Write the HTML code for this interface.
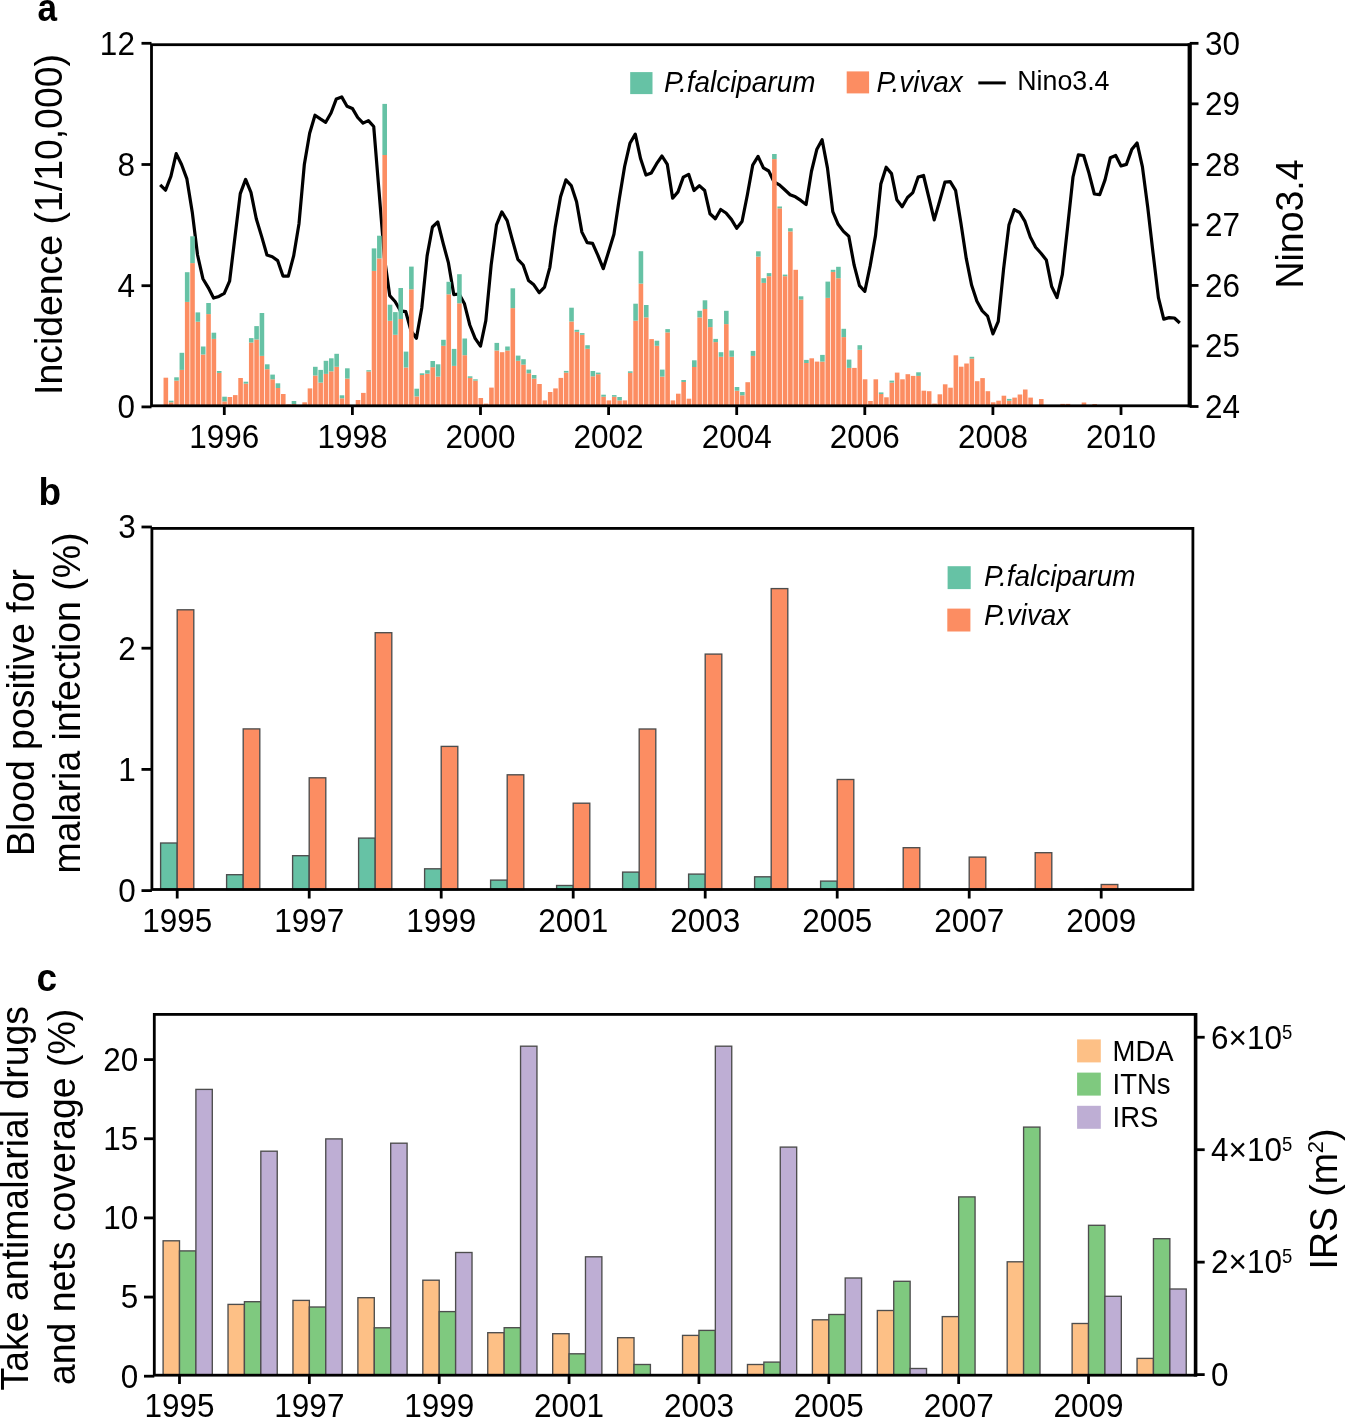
<!DOCTYPE html><html><head><meta charset="utf-8"><style>html,body{margin:0;padding:0;background:#fff;}svg{-webkit-font-smoothing:antialiased;will-change:transform;}body{width:1346px;height:1419px;overflow:hidden;}</style></head><body><svg width="1346" height="1419" viewBox="0 0 1346 1419" style="display:block">
<rect width="1346" height="1419" fill="#fff"/>
<g font-family='"Liberation Sans", sans-serif' fill="#000">
<polyline points="160.2,184.8 165.54,190.2 170.88,176.4 176.21,153.6 181.55,164.5 186.89,178.9 192.23,211.9 197.57,255 202.9,278.7 208.24,287.6 213.58,298.1 218.92,296.4 224.26,293.4 229.59,281.2 234.93,237.3 240.27,193.6 245.61,179.4 250.95,192.4 256.28,218.7 261.62,236.4 266.96,255 272.3,256.7 277.64,260.6 282.97,276.1 288.31,276.1 293.65,255.9 298.99,223.7 304.33,164.5 309.66,133.3 315,115.2 320.34,118.9 325.68,122.3 331.02,113 336.35,98.9 341.69,96.9 347.03,106.2 352.37,108.4 357.71,117.5 363.04,123.1 368.38,120.6 373.72,126.5 379.06,191.6 384.4,257.5 389.73,295.6 395.07,301.5 400.41,310.8 405.75,311.7 411.09,331 416.42,338.3 421.76,308 427.1,255.9 432.44,227 437.78,222 443.11,243.2 448.45,262.9 453.79,294.6 459.13,294 464.47,303.8 469.8,325 475.14,338.3 480.48,346.1 485.82,320.7 491.16,265 496.49,224.9 501.83,211.9 507.17,220.6 512.51,240.4 517.85,259.4 523.18,265 528.52,280.5 533.86,284.8 539.2,292.7 544.54,287.1 549.87,267.3 555.21,227.1 560.55,196.8 565.89,179.9 571.23,185.6 576.56,201.8 581.9,232.1 587.24,242.7 592.58,243.4 597.92,255.3 603.25,268.7 608.59,251.8 613.93,234.2 619.27,199 624.61,166.5 629.94,143.3 635.28,134.1 640.62,158.8 645.96,175 651.3,172.9 656.63,163.7 661.97,156 667.31,164.4 672.65,198.2 677.99,191.9 683.32,177.1 688.66,174.3 694,190.5 699.34,185.6 704.68,190.5 710.01,213.8 715.35,218.7 720.69,209.5 726.03,213 731.37,219.4 736.7,228.3 742.04,221.5 747.38,194.7 752.72,165.1 758.06,156.4 763.39,167.9 768.73,171 774.07,182 779.41,184.9 784.75,189.8 790.08,194.7 795.42,196.8 800.76,200.4 806.1,204.6 811.44,171.5 816.77,149.6 822.11,139.7 827.45,167.9 832.79,211.6 838.13,224.3 843.46,231.4 848.8,236.3 854.14,265.2 859.48,285.7 864.82,291.3 870.15,265.9 875.49,235.6 880.83,184.1 886.17,167.2 891.51,173.6 896.84,199.7 902.18,206.7 907.52,197.5 912.86,192.6 918.2,177.1 923.53,175.5 928.87,197.5 934.21,219.9 939.55,201.4 944.89,182.2 950.22,181.7 955.56,190.3 960.9,222.9 966.24,258.4 971.58,285 976.91,301.3 982.25,310.9 987.59,316.1 992.93,333.9 998.27,321.3 1003.6,268.8 1008.94,225.1 1014.28,209.6 1019.62,212.5 1024.96,221.4 1030.29,236.9 1035.63,247.3 1040.97,253.2 1046.31,259.9 1051.65,286.5 1056.98,297.6 1062.32,274.7 1067.66,226.6 1073,177 1078.34,154.8 1083.67,155.5 1089.01,173.3 1094.35,194 1099.69,194.7 1105.03,179.9 1110.36,157.7 1115.7,155.5 1121.04,165.9 1126.38,164.4 1131.72,149.6 1137.05,142.9 1142.39,166.6 1147.73,207.3 1153.07,253.2 1158.41,297.6 1163.74,319.1 1169.08,317.6 1174.42,318 1179.76,323" fill="none" stroke="#000" stroke-width="3.2" stroke-linejoin="round" stroke-linecap="butt"/>
<g>
<rect x="163.54" y="377.7" width="4.59" height="28.1" fill="#fc8d62"/>
<rect x="168.88" y="402.3" width="4.59" height="3.5" fill="#fc8d62"/>
<rect x="168.88" y="400.7" width="4.59" height="1.6" fill="#66c2a5"/>
<rect x="174.22" y="380.6" width="4.59" height="25.2" fill="#fc8d62"/>
<rect x="174.22" y="377.3" width="4.59" height="3.3" fill="#66c2a5"/>
<rect x="179.56" y="369.9" width="4.59" height="35.9" fill="#fc8d62"/>
<rect x="179.56" y="352.8" width="4.59" height="17.1" fill="#66c2a5"/>
<rect x="184.9" y="301.9" width="4.59" height="103.9" fill="#fc8d62"/>
<rect x="184.9" y="272.2" width="4.59" height="29.7" fill="#66c2a5"/>
<rect x="190.23" y="263.1" width="4.59" height="142.7" fill="#fc8d62"/>
<rect x="190.23" y="236.3" width="4.59" height="26.8" fill="#66c2a5"/>
<rect x="195.57" y="321.7" width="4.59" height="84.1" fill="#fc8d62"/>
<rect x="195.57" y="312.4" width="4.59" height="9.3" fill="#66c2a5"/>
<rect x="200.91" y="354.5" width="4.59" height="51.3" fill="#fc8d62"/>
<rect x="200.91" y="346.5" width="4.59" height="8" fill="#66c2a5"/>
<rect x="206.25" y="314.1" width="4.59" height="91.7" fill="#fc8d62"/>
<rect x="206.25" y="303" width="4.59" height="11.1" fill="#66c2a5"/>
<rect x="211.59" y="338.9" width="4.59" height="66.9" fill="#fc8d62"/>
<rect x="211.59" y="332.7" width="4.59" height="6.2" fill="#66c2a5"/>
<rect x="216.92" y="372.9" width="4.59" height="32.9" fill="#fc8d62"/>
<rect x="216.92" y="371" width="4.59" height="1.9" fill="#66c2a5"/>
<rect x="222.26" y="401.4" width="4.59" height="4.4" fill="#fc8d62"/>
<rect x="222.26" y="396.7" width="4.59" height="4.7" fill="#66c2a5"/>
<rect x="227.6" y="397" width="4.59" height="8.8" fill="#fc8d62"/>
<rect x="232.94" y="395.1" width="4.59" height="10.7" fill="#fc8d62"/>
<rect x="238.28" y="378" width="4.59" height="27.8" fill="#fc8d62"/>
<rect x="243.61" y="383.6" width="4.59" height="22.2" fill="#fc8d62"/>
<rect x="243.61" y="381.7" width="4.59" height="1.9" fill="#66c2a5"/>
<rect x="248.95" y="342.5" width="4.59" height="63.3" fill="#fc8d62"/>
<rect x="248.95" y="338.1" width="4.59" height="4.4" fill="#66c2a5"/>
<rect x="254.29" y="339.5" width="4.59" height="66.3" fill="#fc8d62"/>
<rect x="254.29" y="326.1" width="4.59" height="13.4" fill="#66c2a5"/>
<rect x="259.63" y="355.9" width="4.59" height="49.9" fill="#fc8d62"/>
<rect x="259.63" y="313" width="4.59" height="42.9" fill="#66c2a5"/>
<rect x="264.97" y="369.2" width="4.59" height="36.6" fill="#fc8d62"/>
<rect x="264.97" y="364.3" width="4.59" height="4.9" fill="#66c2a5"/>
<rect x="270.3" y="379.3" width="4.59" height="26.5" fill="#fc8d62"/>
<rect x="270.3" y="374.6" width="4.59" height="4.7" fill="#66c2a5"/>
<rect x="275.64" y="388" width="4.59" height="17.8" fill="#fc8d62"/>
<rect x="275.64" y="383.3" width="4.59" height="4.7" fill="#66c2a5"/>
<rect x="280.98" y="394" width="4.59" height="11.8" fill="#fc8d62"/>
<rect x="286.32" y="404.4" width="4.59" height="1.4" fill="#fc8d62"/>
<rect x="291.66" y="404" width="4.59" height="1.8" fill="#fc8d62"/>
<rect x="291.66" y="401" width="4.59" height="3" fill="#66c2a5"/>
<rect x="302.33" y="402.3" width="4.59" height="3.5" fill="#fc8d62"/>
<rect x="307.67" y="388.4" width="4.59" height="17.4" fill="#fc8d62"/>
<rect x="313.01" y="375.5" width="4.59" height="30.3" fill="#fc8d62"/>
<rect x="313.01" y="366.8" width="4.59" height="8.7" fill="#66c2a5"/>
<rect x="318.35" y="382.6" width="4.59" height="23.2" fill="#fc8d62"/>
<rect x="318.35" y="369.9" width="4.59" height="12.7" fill="#66c2a5"/>
<rect x="323.68" y="373.9" width="4.59" height="31.9" fill="#fc8d62"/>
<rect x="323.68" y="360.8" width="4.59" height="13.1" fill="#66c2a5"/>
<rect x="329.02" y="371.3" width="4.59" height="34.5" fill="#fc8d62"/>
<rect x="329.02" y="358.3" width="4.59" height="13" fill="#66c2a5"/>
<rect x="334.36" y="366.8" width="4.59" height="39" fill="#fc8d62"/>
<rect x="334.36" y="353.8" width="4.59" height="13" fill="#66c2a5"/>
<rect x="339.7" y="398.3" width="4.59" height="7.5" fill="#fc8d62"/>
<rect x="339.7" y="395.3" width="4.59" height="3" fill="#66c2a5"/>
<rect x="345.04" y="378.6" width="4.59" height="27.2" fill="#fc8d62"/>
<rect x="345.04" y="368.3" width="4.59" height="10.3" fill="#66c2a5"/>
<rect x="355.71" y="400" width="4.59" height="5.8" fill="#fc8d62"/>
<rect x="361.05" y="392.9" width="4.59" height="12.9" fill="#fc8d62"/>
<rect x="366.39" y="371.5" width="4.59" height="34.3" fill="#fc8d62"/>
<rect x="366.39" y="370.2" width="4.59" height="1.3" fill="#66c2a5"/>
<rect x="371.73" y="270.9" width="4.59" height="134.9" fill="#fc8d62"/>
<rect x="371.73" y="248.4" width="4.59" height="22.5" fill="#66c2a5"/>
<rect x="377.06" y="258.4" width="4.59" height="147.4" fill="#fc8d62"/>
<rect x="377.06" y="235.7" width="4.59" height="22.7" fill="#66c2a5"/>
<rect x="382.4" y="155" width="4.59" height="250.8" fill="#fc8d62"/>
<rect x="382.4" y="103.9" width="4.59" height="51.1" fill="#66c2a5"/>
<rect x="387.74" y="320.8" width="4.59" height="85" fill="#fc8d62"/>
<rect x="387.74" y="304.7" width="4.59" height="16.1" fill="#66c2a5"/>
<rect x="393.08" y="334.8" width="4.59" height="71" fill="#fc8d62"/>
<rect x="393.08" y="312.1" width="4.59" height="22.7" fill="#66c2a5"/>
<rect x="398.42" y="319" width="4.59" height="86.8" fill="#fc8d62"/>
<rect x="398.42" y="288" width="4.59" height="31" fill="#66c2a5"/>
<rect x="403.75" y="367.5" width="4.59" height="38.3" fill="#fc8d62"/>
<rect x="403.75" y="351.6" width="4.59" height="15.9" fill="#66c2a5"/>
<rect x="409.09" y="289.3" width="4.59" height="116.5" fill="#fc8d62"/>
<rect x="409.09" y="266.6" width="4.59" height="22.7" fill="#66c2a5"/>
<rect x="414.43" y="396.4" width="4.59" height="9.4" fill="#fc8d62"/>
<rect x="414.43" y="388.7" width="4.59" height="7.7" fill="#66c2a5"/>
<rect x="419.77" y="375" width="4.59" height="30.8" fill="#fc8d62"/>
<rect x="419.77" y="373.3" width="4.59" height="1.7" fill="#66c2a5"/>
<rect x="425.11" y="373.7" width="4.59" height="32.1" fill="#fc8d62"/>
<rect x="425.11" y="370.2" width="4.59" height="3.5" fill="#66c2a5"/>
<rect x="430.44" y="367.2" width="4.59" height="38.6" fill="#fc8d62"/>
<rect x="430.44" y="361" width="4.59" height="6.2" fill="#66c2a5"/>
<rect x="435.78" y="376.6" width="4.59" height="29.2" fill="#fc8d62"/>
<rect x="435.78" y="364.3" width="4.59" height="12.3" fill="#66c2a5"/>
<rect x="441.12" y="345.8" width="4.59" height="60" fill="#fc8d62"/>
<rect x="441.12" y="339.8" width="4.59" height="6" fill="#66c2a5"/>
<rect x="446.46" y="294.3" width="4.59" height="111.5" fill="#fc8d62"/>
<rect x="446.46" y="281.8" width="4.59" height="12.5" fill="#66c2a5"/>
<rect x="451.8" y="365.9" width="4.59" height="39.9" fill="#fc8d62"/>
<rect x="451.8" y="348.9" width="4.59" height="17" fill="#66c2a5"/>
<rect x="457.13" y="303.3" width="4.59" height="102.5" fill="#fc8d62"/>
<rect x="457.13" y="274.2" width="4.59" height="29.1" fill="#66c2a5"/>
<rect x="462.47" y="355.2" width="4.59" height="50.6" fill="#fc8d62"/>
<rect x="462.47" y="338.5" width="4.59" height="16.7" fill="#66c2a5"/>
<rect x="467.81" y="377.9" width="4.59" height="27.9" fill="#fc8d62"/>
<rect x="467.81" y="376.3" width="4.59" height="1.6" fill="#66c2a5"/>
<rect x="473.15" y="380.6" width="4.59" height="25.2" fill="#fc8d62"/>
<rect x="473.15" y="379.3" width="4.59" height="1.3" fill="#66c2a5"/>
<rect x="478.49" y="398" width="4.59" height="7.8" fill="#fc8d62"/>
<rect x="483.82" y="403.6" width="4.59" height="2.2" fill="#fc8d62"/>
<rect x="489.16" y="387.6" width="4.59" height="18.2" fill="#fc8d62"/>
<rect x="494.5" y="350.5" width="4.59" height="55.3" fill="#fc8d62"/>
<rect x="494.5" y="342.9" width="4.59" height="7.6" fill="#66c2a5"/>
<rect x="499.84" y="352.2" width="4.59" height="53.6" fill="#fc8d62"/>
<rect x="505.18" y="350.5" width="4.59" height="55.3" fill="#fc8d62"/>
<rect x="505.18" y="346.5" width="4.59" height="4" fill="#66c2a5"/>
<rect x="510.51" y="308.1" width="4.59" height="97.7" fill="#fc8d62"/>
<rect x="510.51" y="288.3" width="4.59" height="19.8" fill="#66c2a5"/>
<rect x="515.85" y="360.8" width="4.59" height="45" fill="#fc8d62"/>
<rect x="515.85" y="355.6" width="4.59" height="5.2" fill="#66c2a5"/>
<rect x="521.19" y="364.6" width="4.59" height="41.2" fill="#fc8d62"/>
<rect x="521.19" y="359.2" width="4.59" height="5.4" fill="#66c2a5"/>
<rect x="526.53" y="373.3" width="4.59" height="32.5" fill="#fc8d62"/>
<rect x="526.53" y="369.6" width="4.59" height="3.7" fill="#66c2a5"/>
<rect x="531.87" y="378.6" width="4.59" height="27.2" fill="#fc8d62"/>
<rect x="531.87" y="375" width="4.59" height="3.6" fill="#66c2a5"/>
<rect x="537.2" y="384" width="4.59" height="21.8" fill="#fc8d62"/>
<rect x="542.54" y="400.4" width="4.59" height="5.4" fill="#fc8d62"/>
<rect x="547.88" y="392" width="4.59" height="13.8" fill="#fc8d62"/>
<rect x="553.22" y="388.4" width="4.59" height="17.4" fill="#fc8d62"/>
<rect x="558.56" y="377.9" width="4.59" height="27.9" fill="#fc8d62"/>
<rect x="563.89" y="372.6" width="4.59" height="33.2" fill="#fc8d62"/>
<rect x="563.89" y="370.9" width="4.59" height="1.7" fill="#66c2a5"/>
<rect x="569.23" y="321.5" width="4.59" height="84.3" fill="#fc8d62"/>
<rect x="569.23" y="307.7" width="4.59" height="13.8" fill="#66c2a5"/>
<rect x="574.57" y="331.8" width="4.59" height="74" fill="#fc8d62"/>
<rect x="574.57" y="329.8" width="4.59" height="2" fill="#66c2a5"/>
<rect x="579.91" y="334.8" width="4.59" height="71" fill="#fc8d62"/>
<rect x="579.91" y="333.1" width="4.59" height="1.7" fill="#66c2a5"/>
<rect x="585.25" y="348.8" width="4.59" height="57" fill="#fc8d62"/>
<rect x="585.25" y="345.2" width="4.59" height="3.6" fill="#66c2a5"/>
<rect x="590.58" y="376.3" width="4.59" height="29.5" fill="#fc8d62"/>
<rect x="590.58" y="371" width="4.59" height="5.3" fill="#66c2a5"/>
<rect x="595.92" y="374.2" width="4.59" height="31.6" fill="#fc8d62"/>
<rect x="595.92" y="372.6" width="4.59" height="1.6" fill="#66c2a5"/>
<rect x="601.26" y="396.7" width="4.59" height="9.1" fill="#fc8d62"/>
<rect x="601.26" y="394.7" width="4.59" height="2" fill="#66c2a5"/>
<rect x="606.6" y="400.4" width="4.59" height="5.4" fill="#fc8d62"/>
<rect x="611.94" y="396.7" width="4.59" height="9.1" fill="#fc8d62"/>
<rect x="611.94" y="395.1" width="4.59" height="1.6" fill="#66c2a5"/>
<rect x="617.27" y="400.4" width="4.59" height="5.4" fill="#fc8d62"/>
<rect x="617.27" y="397" width="4.59" height="3.4" fill="#66c2a5"/>
<rect x="622.61" y="400.4" width="4.59" height="5.4" fill="#fc8d62"/>
<rect x="627.95" y="372.9" width="4.59" height="32.9" fill="#fc8d62"/>
<rect x="627.95" y="371.3" width="4.59" height="1.6" fill="#66c2a5"/>
<rect x="633.29" y="320.7" width="4.59" height="85.1" fill="#fc8d62"/>
<rect x="633.29" y="303.7" width="4.59" height="17" fill="#66c2a5"/>
<rect x="638.63" y="283.6" width="4.59" height="122.2" fill="#fc8d62"/>
<rect x="638.63" y="251.2" width="4.59" height="32.4" fill="#66c2a5"/>
<rect x="643.96" y="317.4" width="4.59" height="88.4" fill="#fc8d62"/>
<rect x="643.96" y="305" width="4.59" height="12.4" fill="#66c2a5"/>
<rect x="649.3" y="339.1" width="4.59" height="66.7" fill="#fc8d62"/>
<rect x="654.64" y="345.8" width="4.59" height="60" fill="#fc8d62"/>
<rect x="654.64" y="340.7" width="4.59" height="5.1" fill="#66c2a5"/>
<rect x="659.98" y="376.6" width="4.59" height="29.2" fill="#fc8d62"/>
<rect x="659.98" y="369.6" width="4.59" height="7" fill="#66c2a5"/>
<rect x="665.32" y="332.4" width="4.59" height="73.4" fill="#fc8d62"/>
<rect x="665.32" y="329.1" width="4.59" height="3.3" fill="#66c2a5"/>
<rect x="670.65" y="400.4" width="4.59" height="5.4" fill="#fc8d62"/>
<rect x="675.99" y="393.7" width="4.59" height="12.1" fill="#fc8d62"/>
<rect x="681.33" y="382" width="4.59" height="23.8" fill="#fc8d62"/>
<rect x="681.33" y="380" width="4.59" height="2" fill="#66c2a5"/>
<rect x="686.67" y="398.7" width="4.59" height="7.1" fill="#fc8d62"/>
<rect x="692.01" y="367" width="4.59" height="38.8" fill="#fc8d62"/>
<rect x="692.01" y="360.3" width="4.59" height="6.7" fill="#66c2a5"/>
<rect x="697.34" y="317.4" width="4.59" height="88.4" fill="#fc8d62"/>
<rect x="697.34" y="310.8" width="4.59" height="6.6" fill="#66c2a5"/>
<rect x="702.68" y="309" width="4.59" height="96.8" fill="#fc8d62"/>
<rect x="702.68" y="300.3" width="4.59" height="8.7" fill="#66c2a5"/>
<rect x="708.02" y="327.1" width="4.59" height="78.7" fill="#fc8d62"/>
<rect x="708.02" y="319" width="4.59" height="8.1" fill="#66c2a5"/>
<rect x="713.36" y="342.1" width="4.59" height="63.7" fill="#fc8d62"/>
<rect x="713.36" y="338.9" width="4.59" height="3.2" fill="#66c2a5"/>
<rect x="718.7" y="356.8" width="4.59" height="49" fill="#fc8d62"/>
<rect x="718.7" y="352.2" width="4.59" height="4.6" fill="#66c2a5"/>
<rect x="724.03" y="324.1" width="4.59" height="81.7" fill="#fc8d62"/>
<rect x="724.03" y="310.8" width="4.59" height="13.3" fill="#66c2a5"/>
<rect x="729.37" y="356.8" width="4.59" height="49" fill="#fc8d62"/>
<rect x="729.37" y="350.5" width="4.59" height="6.3" fill="#66c2a5"/>
<rect x="734.71" y="390.7" width="4.59" height="15.1" fill="#fc8d62"/>
<rect x="734.71" y="387" width="4.59" height="3.7" fill="#66c2a5"/>
<rect x="740.05" y="395.3" width="4.59" height="10.5" fill="#fc8d62"/>
<rect x="740.05" y="392" width="4.59" height="3.3" fill="#66c2a5"/>
<rect x="745.39" y="382.2" width="4.59" height="23.6" fill="#fc8d62"/>
<rect x="750.72" y="355.9" width="4.59" height="49.9" fill="#fc8d62"/>
<rect x="750.72" y="350.9" width="4.59" height="5" fill="#66c2a5"/>
<rect x="756.06" y="256.6" width="4.59" height="149.2" fill="#fc8d62"/>
<rect x="756.06" y="251.3" width="4.59" height="5.3" fill="#66c2a5"/>
<rect x="761.4" y="282.9" width="4.59" height="122.9" fill="#fc8d62"/>
<rect x="761.4" y="278.2" width="4.59" height="4.7" fill="#66c2a5"/>
<rect x="766.74" y="276.2" width="4.59" height="129.6" fill="#fc8d62"/>
<rect x="766.74" y="273.1" width="4.59" height="3.1" fill="#66c2a5"/>
<rect x="772.08" y="159.1" width="4.59" height="246.7" fill="#fc8d62"/>
<rect x="772.08" y="154" width="4.59" height="5.1" fill="#66c2a5"/>
<rect x="777.41" y="208.3" width="4.59" height="197.5" fill="#fc8d62"/>
<rect x="777.41" y="206.5" width="4.59" height="1.8" fill="#66c2a5"/>
<rect x="782.75" y="276.2" width="4.59" height="129.6" fill="#fc8d62"/>
<rect x="782.75" y="274.6" width="4.59" height="1.6" fill="#66c2a5"/>
<rect x="788.09" y="231.4" width="4.59" height="174.4" fill="#fc8d62"/>
<rect x="788.09" y="228.2" width="4.59" height="3.2" fill="#66c2a5"/>
<rect x="793.43" y="269.8" width="4.59" height="136" fill="#fc8d62"/>
<rect x="798.77" y="299.6" width="4.59" height="106.2" fill="#fc8d62"/>
<rect x="798.77" y="296.3" width="4.59" height="3.3" fill="#66c2a5"/>
<rect x="804.1" y="363" width="4.59" height="42.8" fill="#fc8d62"/>
<rect x="804.1" y="359.9" width="4.59" height="3.1" fill="#66c2a5"/>
<rect x="809.44" y="358.3" width="4.59" height="47.5" fill="#fc8d62"/>
<rect x="814.78" y="361.6" width="4.59" height="44.2" fill="#fc8d62"/>
<rect x="820.12" y="361.6" width="4.59" height="44.2" fill="#fc8d62"/>
<rect x="820.12" y="354.9" width="4.59" height="6.7" fill="#66c2a5"/>
<rect x="825.46" y="297.9" width="4.59" height="107.9" fill="#fc8d62"/>
<rect x="825.46" y="281.6" width="4.59" height="16.3" fill="#66c2a5"/>
<rect x="830.79" y="271.9" width="4.59" height="133.9" fill="#fc8d62"/>
<rect x="830.79" y="269.8" width="4.59" height="2.1" fill="#66c2a5"/>
<rect x="836.13" y="278.2" width="4.59" height="127.6" fill="#fc8d62"/>
<rect x="836.13" y="266.8" width="4.59" height="11.4" fill="#66c2a5"/>
<rect x="841.47" y="337.1" width="4.59" height="68.7" fill="#fc8d62"/>
<rect x="841.47" y="328.8" width="4.59" height="8.3" fill="#66c2a5"/>
<rect x="846.81" y="367.9" width="4.59" height="37.9" fill="#fc8d62"/>
<rect x="846.81" y="359.6" width="4.59" height="8.3" fill="#66c2a5"/>
<rect x="852.15" y="367.9" width="4.59" height="37.9" fill="#fc8d62"/>
<rect x="857.48" y="349.8" width="4.59" height="56" fill="#fc8d62"/>
<rect x="857.48" y="345.2" width="4.59" height="4.6" fill="#66c2a5"/>
<rect x="862.82" y="379.3" width="4.59" height="26.5" fill="#fc8d62"/>
<rect x="868.16" y="401" width="4.59" height="4.8" fill="#fc8d62"/>
<rect x="873.5" y="379.3" width="4.59" height="26.5" fill="#fc8d62"/>
<rect x="878.84" y="394" width="4.59" height="11.8" fill="#fc8d62"/>
<rect x="878.84" y="392.4" width="4.59" height="1.6" fill="#66c2a5"/>
<rect x="884.17" y="397.3" width="4.59" height="8.5" fill="#fc8d62"/>
<rect x="889.51" y="382.6" width="4.59" height="23.2" fill="#fc8d62"/>
<rect x="889.51" y="380.6" width="4.59" height="2" fill="#66c2a5"/>
<rect x="894.85" y="372.6" width="4.59" height="33.2" fill="#fc8d62"/>
<rect x="900.19" y="379.3" width="4.59" height="26.5" fill="#fc8d62"/>
<rect x="905.53" y="374.2" width="4.59" height="31.6" fill="#fc8d62"/>
<rect x="910.86" y="375.9" width="4.59" height="29.9" fill="#fc8d62"/>
<rect x="916.2" y="375.9" width="4.59" height="29.9" fill="#fc8d62"/>
<rect x="916.2" y="372.3" width="4.59" height="3.6" fill="#66c2a5"/>
<rect x="921.54" y="390.7" width="4.59" height="15.1" fill="#fc8d62"/>
<rect x="926.88" y="391.2" width="4.59" height="14.6" fill="#fc8d62"/>
<rect x="932.22" y="403.6" width="4.59" height="2.2" fill="#fc8d62"/>
<rect x="937.55" y="394.3" width="4.59" height="11.5" fill="#fc8d62"/>
<rect x="942.89" y="384.3" width="4.59" height="21.5" fill="#fc8d62"/>
<rect x="948.23" y="387.7" width="4.59" height="18.1" fill="#fc8d62"/>
<rect x="953.57" y="355.3" width="4.59" height="50.5" fill="#fc8d62"/>
<rect x="958.91" y="366.7" width="4.59" height="39.1" fill="#fc8d62"/>
<rect x="964.24" y="363.5" width="4.59" height="42.3" fill="#fc8d62"/>
<rect x="969.58" y="358.6" width="4.59" height="47.2" fill="#fc8d62"/>
<rect x="969.58" y="356.8" width="4.59" height="1.8" fill="#66c2a5"/>
<rect x="974.92" y="381.2" width="4.59" height="24.6" fill="#fc8d62"/>
<rect x="980.26" y="378.1" width="4.59" height="27.7" fill="#fc8d62"/>
<rect x="985.6" y="391.2" width="4.59" height="14.6" fill="#fc8d62"/>
<rect x="990.93" y="402.3" width="4.59" height="3.5" fill="#fc8d62"/>
<rect x="996.27" y="400.7" width="4.59" height="5.1" fill="#fc8d62"/>
<rect x="1001.61" y="395.7" width="4.59" height="10.1" fill="#fc8d62"/>
<rect x="1006.95" y="400.7" width="4.59" height="5.1" fill="#fc8d62"/>
<rect x="1006.95" y="398.9" width="4.59" height="1.8" fill="#66c2a5"/>
<rect x="1012.29" y="397.6" width="4.59" height="8.2" fill="#fc8d62"/>
<rect x="1017.62" y="394.5" width="4.59" height="11.3" fill="#fc8d62"/>
<rect x="1022.96" y="389.5" width="4.59" height="16.3" fill="#fc8d62"/>
<rect x="1028.3" y="397.6" width="4.59" height="8.2" fill="#fc8d62"/>
<rect x="1038.98" y="399" width="4.59" height="6.8" fill="#fc8d62"/>
<rect x="1060.33" y="403.9" width="4.59" height="1.9" fill="#fc8d62"/>
<rect x="1065.67" y="403.9" width="4.59" height="1.9" fill="#fc8d62"/>
<rect x="1081.68" y="402.5" width="4.59" height="3.3" fill="#fc8d62"/>
<rect x="1092.36" y="404" width="4.59" height="1.8" fill="#fc8d62"/>
</g>
<rect x="151.5" y="44.7" width="1038.2" height="361.1" fill="none" stroke="#000" stroke-width="2.8"/>
<line x1="1189.7" y1="43.300000000000004" x2="1189.7" y2="407.2" stroke="#000" stroke-width="4.2"/>
<line x1="141.5" y1="406.9" x2="151.5" y2="406.9" stroke="#000" stroke-width="2.8"/>
<text transform="translate(134.9 418.2) scale(1 1.045)" font-size="31.5" text-anchor="end" >0</text>
<line x1="141.5" y1="285.7" x2="151.5" y2="285.7" stroke="#000" stroke-width="2.8"/>
<text transform="translate(134.9 297) scale(1 1.045)" font-size="31.5" text-anchor="end" >4</text>
<line x1="141.5" y1="164.5" x2="151.5" y2="164.5" stroke="#000" stroke-width="2.8"/>
<text transform="translate(134.9 175.8) scale(1 1.045)" font-size="31.5" text-anchor="end" >8</text>
<line x1="141.5" y1="43.3" x2="151.5" y2="43.3" stroke="#000" stroke-width="2.8"/>
<text transform="translate(134.9 54.6) scale(1 1.045)" font-size="31.5" text-anchor="end" >12</text>
<line x1="1189.7" y1="406.5" x2="1198.5" y2="406.5" stroke="#000" stroke-width="2.8"/>
<text transform="translate(1205 417.8) scale(1 1.045)" font-size="31.5" text-anchor="start" >24</text>
<line x1="1189.7" y1="345.97" x2="1198.5" y2="345.97" stroke="#000" stroke-width="2.8"/>
<text transform="translate(1205 357.27) scale(1 1.045)" font-size="31.5" text-anchor="start" >25</text>
<line x1="1189.7" y1="285.44" x2="1198.5" y2="285.44" stroke="#000" stroke-width="2.8"/>
<text transform="translate(1205 296.74) scale(1 1.045)" font-size="31.5" text-anchor="start" >26</text>
<line x1="1189.7" y1="224.91" x2="1198.5" y2="224.91" stroke="#000" stroke-width="2.8"/>
<text transform="translate(1205 236.21) scale(1 1.045)" font-size="31.5" text-anchor="start" >27</text>
<line x1="1189.7" y1="164.38" x2="1198.5" y2="164.38" stroke="#000" stroke-width="2.8"/>
<text transform="translate(1205 175.68) scale(1 1.045)" font-size="31.5" text-anchor="start" >28</text>
<line x1="1189.7" y1="103.85" x2="1198.5" y2="103.85" stroke="#000" stroke-width="2.8"/>
<text transform="translate(1205 115.15) scale(1 1.045)" font-size="31.5" text-anchor="start" >29</text>
<line x1="1189.7" y1="43.32" x2="1198.5" y2="43.32" stroke="#000" stroke-width="2.8"/>
<text transform="translate(1205 54.62) scale(1 1.045)" font-size="31.5" text-anchor="start" >30</text>
<line x1="224.3" y1="405.8" x2="224.3" y2="415" stroke="#000" stroke-width="2.8"/>
<text transform="translate(224.3 448) scale(1 1.045)" font-size="31.5" text-anchor="middle" >1996</text>
<line x1="352.4" y1="405.8" x2="352.4" y2="415" stroke="#000" stroke-width="2.8"/>
<text transform="translate(352.4 448) scale(1 1.045)" font-size="31.5" text-anchor="middle" >1998</text>
<line x1="480.5" y1="405.8" x2="480.5" y2="415" stroke="#000" stroke-width="2.8"/>
<text transform="translate(480.5 448) scale(1 1.045)" font-size="31.5" text-anchor="middle" >2000</text>
<line x1="608.6" y1="405.8" x2="608.6" y2="415" stroke="#000" stroke-width="2.8"/>
<text transform="translate(608.6 448) scale(1 1.045)" font-size="31.5" text-anchor="middle" >2002</text>
<line x1="736.7" y1="405.8" x2="736.7" y2="415" stroke="#000" stroke-width="2.8"/>
<text transform="translate(736.7 448) scale(1 1.045)" font-size="31.5" text-anchor="middle" >2004</text>
<line x1="864.8" y1="405.8" x2="864.8" y2="415" stroke="#000" stroke-width="2.8"/>
<text transform="translate(864.8 448) scale(1 1.045)" font-size="31.5" text-anchor="middle" >2006</text>
<line x1="992.9" y1="405.8" x2="992.9" y2="415" stroke="#000" stroke-width="2.8"/>
<text transform="translate(992.9 448) scale(1 1.045)" font-size="31.5" text-anchor="middle" >2008</text>
<line x1="1121" y1="405.8" x2="1121" y2="415" stroke="#000" stroke-width="2.8"/>
<text transform="translate(1121 448) scale(1 1.045)" font-size="31.5" text-anchor="middle" >2010</text>
<rect x="630.2" y="72.1" width="22.3" height="22" fill="#66c2a5"/>
<text transform="translate(664 91.6) scale(1 1.045)" font-size="27.9" text-anchor="start" font-style="italic">P.falciparum</text>
<rect x="846.7" y="71.4" width="22.4" height="22" fill="#fc8d62"/>
<text transform="translate(876.5 91.6) scale(1 1.045)" font-size="27.9" text-anchor="start" font-style="italic">P.vivax</text>
<line x1="978.3" y1="82.9" x2="1005.8" y2="82.9" stroke="#000" stroke-width="3"/>
<text transform="translate(1017.2 90.1) scale(1 1.045)" font-size="26.8" text-anchor="start" >Nino3.4</text>
<text transform="translate(61.6 224.5) rotate(-90) scale(1 1.03)" font-size="37.4" text-anchor="middle" >Incidence (1/10,000)</text>
<text transform="translate(1302.8 224) rotate(-90) scale(1 1.03)" font-size="37.4" text-anchor="middle" >Nino3.4</text>
<text transform="translate(37.6 21.4) scale(0.95 1.045)" font-size="37" font-weight="bold">a</text>
<g stroke="#4d4d4d" stroke-width="1.35">
<rect x="160.6" y="843" width="16.6" height="46.5" fill="#66c2a5"/>
<rect x="177.2" y="609.8" width="16.6" height="279.7" fill="#fc8d62"/>
<rect x="226.6" y="874.7" width="16.6" height="14.8" fill="#66c2a5"/>
<rect x="243.2" y="728.9" width="16.6" height="160.6" fill="#fc8d62"/>
<rect x="292.6" y="855.7" width="16.6" height="33.8" fill="#66c2a5"/>
<rect x="309.2" y="777.8" width="16.6" height="111.7" fill="#fc8d62"/>
<rect x="358.6" y="838.1" width="16.6" height="51.4" fill="#66c2a5"/>
<rect x="375.2" y="632.7" width="16.6" height="256.8" fill="#fc8d62"/>
<rect x="424.6" y="868.8" width="16.6" height="20.7" fill="#66c2a5"/>
<rect x="441.2" y="746.4" width="16.6" height="143.1" fill="#fc8d62"/>
<rect x="490.6" y="880.1" width="16.6" height="9.4" fill="#66c2a5"/>
<rect x="507.2" y="774.8" width="16.6" height="114.7" fill="#fc8d62"/>
<rect x="556.6" y="885.5" width="16.6" height="4" fill="#66c2a5"/>
<rect x="573.2" y="803.2" width="16.6" height="86.3" fill="#fc8d62"/>
<rect x="622.6" y="872.1" width="16.6" height="17.4" fill="#66c2a5"/>
<rect x="639.2" y="729" width="16.6" height="160.5" fill="#fc8d62"/>
<rect x="688.6" y="874.1" width="16.6" height="15.4" fill="#66c2a5"/>
<rect x="705.2" y="654.1" width="16.6" height="235.4" fill="#fc8d62"/>
<rect x="754.6" y="876.8" width="16.6" height="12.7" fill="#66c2a5"/>
<rect x="771.2" y="588.6" width="16.6" height="300.9" fill="#fc8d62"/>
<rect x="820.6" y="881.1" width="16.6" height="8.4" fill="#66c2a5"/>
<rect x="837.2" y="779.5" width="16.6" height="110" fill="#fc8d62"/>
<rect x="886.6" y="889.5" width="16.6" height="0.01" fill="#66c2a5"/>
<rect x="903.2" y="847.7" width="16.6" height="41.8" fill="#fc8d62"/>
<rect x="952.6" y="889.5" width="16.6" height="0.01" fill="#66c2a5"/>
<rect x="969.2" y="857.1" width="16.6" height="32.4" fill="#fc8d62"/>
<rect x="1018.6" y="889.5" width="16.6" height="0.01" fill="#66c2a5"/>
<rect x="1035.2" y="852.7" width="16.6" height="36.8" fill="#fc8d62"/>
<rect x="1084.6" y="889.5" width="16.6" height="0.01" fill="#66c2a5"/>
<rect x="1101.2" y="884.5" width="16.6" height="5" fill="#fc8d62"/>
<rect x="1150.6" y="889.5" width="16.6" height="0.01" fill="#66c2a5"/>
<rect x="1167.2" y="889.5" width="16.6" height="0.01" fill="#fc8d62"/>
</g>
<rect x="151.9" y="528.4" width="1041" height="361.1" fill="none" stroke="#000" stroke-width="2.8"/>
<line x1="141.5" y1="890.6" x2="151.9" y2="890.6" stroke="#000" stroke-width="2.8"/>
<text transform="translate(135.8 901.9) scale(1 1.045)" font-size="31.5" text-anchor="end" >0</text>
<line x1="141.5" y1="769.4" x2="151.9" y2="769.4" stroke="#000" stroke-width="2.8"/>
<text transform="translate(135.8 780.7) scale(1 1.045)" font-size="31.5" text-anchor="end" >1</text>
<line x1="141.5" y1="648.2" x2="151.9" y2="648.2" stroke="#000" stroke-width="2.8"/>
<text transform="translate(135.8 659.5) scale(1 1.045)" font-size="31.5" text-anchor="end" >2</text>
<line x1="141.5" y1="527" x2="151.9" y2="527" stroke="#000" stroke-width="2.8"/>
<text transform="translate(135.8 538.3) scale(1 1.045)" font-size="31.5" text-anchor="end" >3</text>
<line x1="177.2" y1="889.5" x2="177.2" y2="898.5" stroke="#000" stroke-width="2.8"/>
<text transform="translate(177.2 931.5) scale(1 1.045)" font-size="31.5" text-anchor="middle" >1995</text>
<line x1="309.2" y1="889.5" x2="309.2" y2="898.5" stroke="#000" stroke-width="2.8"/>
<text transform="translate(309.2 931.5) scale(1 1.045)" font-size="31.5" text-anchor="middle" >1997</text>
<line x1="441.2" y1="889.5" x2="441.2" y2="898.5" stroke="#000" stroke-width="2.8"/>
<text transform="translate(441.2 931.5) scale(1 1.045)" font-size="31.5" text-anchor="middle" >1999</text>
<line x1="573.2" y1="889.5" x2="573.2" y2="898.5" stroke="#000" stroke-width="2.8"/>
<text transform="translate(573.2 931.5) scale(1 1.045)" font-size="31.5" text-anchor="middle" >2001</text>
<line x1="705.2" y1="889.5" x2="705.2" y2="898.5" stroke="#000" stroke-width="2.8"/>
<text transform="translate(705.2 931.5) scale(1 1.045)" font-size="31.5" text-anchor="middle" >2003</text>
<line x1="837.2" y1="889.5" x2="837.2" y2="898.5" stroke="#000" stroke-width="2.8"/>
<text transform="translate(837.2 931.5) scale(1 1.045)" font-size="31.5" text-anchor="middle" >2005</text>
<line x1="969.2" y1="889.5" x2="969.2" y2="898.5" stroke="#000" stroke-width="2.8"/>
<text transform="translate(969.2 931.5) scale(1 1.045)" font-size="31.5" text-anchor="middle" >2007</text>
<line x1="1101.2" y1="889.5" x2="1101.2" y2="898.5" stroke="#000" stroke-width="2.8"/>
<text transform="translate(1101.2 931.5) scale(1 1.045)" font-size="31.5" text-anchor="middle" >2009</text>
<rect x="947.6" y="566.2" width="23.1" height="22.9" fill="#66c2a5"/>
<text transform="translate(984 586.4) scale(1 1.045)" font-size="27.9" text-anchor="start" font-style="italic">P.falciparum</text>
<rect x="947.3" y="608.6" width="23.1" height="22.9" fill="#fc8d62"/>
<text transform="translate(984 624.6) scale(1 1.045)" font-size="27.9" text-anchor="start" font-style="italic">P.vivax</text>
<text transform="translate(33.6 712.5) rotate(-90) scale(1 1.03)" font-size="37.4" text-anchor="middle" >Blood positive for</text>
<text transform="translate(80.1 703) rotate(-90) scale(1 1.03)" font-size="37.4" text-anchor="middle" >malaria infection (%)</text>
<text transform="translate(38.5 505) scale(1 1.045)" font-size="37" text-anchor="start" font-weight="bold">b</text>
<g stroke="#4d4d4d" stroke-width="1.35">
<rect x="163.1" y="1240.8" width="16.4" height="134.4" fill="#fdc086"/>
<rect x="179.5" y="1250.9" width="16.4" height="124.3" fill="#7fc97f"/>
<rect x="195.9" y="1089.4" width="16.4" height="285.8" fill="#beaed4"/>
<rect x="228.03" y="1304.4" width="16.4" height="70.8" fill="#fdc086"/>
<rect x="244.43" y="1301.7" width="16.4" height="73.5" fill="#7fc97f"/>
<rect x="260.83" y="1151.2" width="16.4" height="224" fill="#beaed4"/>
<rect x="292.96" y="1300.4" width="16.4" height="74.8" fill="#fdc086"/>
<rect x="309.36" y="1307" width="16.4" height="68.2" fill="#7fc97f"/>
<rect x="325.76" y="1138.9" width="16.4" height="236.3" fill="#beaed4"/>
<rect x="357.89" y="1297.7" width="16.4" height="77.5" fill="#fdc086"/>
<rect x="374.29" y="1327.8" width="16.4" height="47.4" fill="#7fc97f"/>
<rect x="390.69" y="1143.2" width="16.4" height="232" fill="#beaed4"/>
<rect x="422.82" y="1280.2" width="16.4" height="95" fill="#fdc086"/>
<rect x="439.22" y="1311.6" width="16.4" height="63.6" fill="#7fc97f"/>
<rect x="455.62" y="1252.5" width="16.4" height="122.7" fill="#beaed4"/>
<rect x="487.75" y="1332.7" width="16.4" height="42.5" fill="#fdc086"/>
<rect x="504.15" y="1327.7" width="16.4" height="47.5" fill="#7fc97f"/>
<rect x="520.55" y="1046.2" width="16.4" height="329" fill="#beaed4"/>
<rect x="552.68" y="1333.7" width="16.4" height="41.5" fill="#fdc086"/>
<rect x="569.08" y="1353.8" width="16.4" height="21.4" fill="#7fc97f"/>
<rect x="585.48" y="1256.8" width="16.4" height="118.4" fill="#beaed4"/>
<rect x="617.61" y="1337.7" width="16.4" height="37.5" fill="#fdc086"/>
<rect x="634.01" y="1364.5" width="16.4" height="10.7" fill="#7fc97f"/>
<rect x="650.41" y="1375.2" width="16.4" height="0.01" fill="#beaed4"/>
<rect x="682.54" y="1335.4" width="16.4" height="39.8" fill="#fdc086"/>
<rect x="698.94" y="1330.4" width="16.4" height="44.8" fill="#7fc97f"/>
<rect x="715.34" y="1046.2" width="16.4" height="329" fill="#beaed4"/>
<rect x="747.47" y="1364.5" width="16.4" height="10.7" fill="#fdc086"/>
<rect x="763.87" y="1362.1" width="16.4" height="13.1" fill="#7fc97f"/>
<rect x="780.27" y="1147.1" width="16.4" height="228.1" fill="#beaed4"/>
<rect x="812.4" y="1319.8" width="16.4" height="55.4" fill="#fdc086"/>
<rect x="828.8" y="1314.5" width="16.4" height="60.7" fill="#7fc97f"/>
<rect x="845.2" y="1278" width="16.4" height="97.2" fill="#beaed4"/>
<rect x="877.33" y="1310.5" width="16.4" height="64.7" fill="#fdc086"/>
<rect x="893.73" y="1281.3" width="16.4" height="93.9" fill="#7fc97f"/>
<rect x="910.13" y="1368.5" width="16.4" height="6.7" fill="#beaed4"/>
<rect x="942.26" y="1316.6" width="16.4" height="58.6" fill="#fdc086"/>
<rect x="958.66" y="1196.9" width="16.4" height="178.3" fill="#7fc97f"/>
<rect x="975.06" y="1375.2" width="16.4" height="0.01" fill="#beaed4"/>
<rect x="1007.19" y="1261.8" width="16.4" height="113.4" fill="#fdc086"/>
<rect x="1023.59" y="1127.1" width="16.4" height="248.1" fill="#7fc97f"/>
<rect x="1039.99" y="1375.2" width="16.4" height="0.01" fill="#beaed4"/>
<rect x="1072.12" y="1323.5" width="16.4" height="51.7" fill="#fdc086"/>
<rect x="1088.52" y="1225.3" width="16.4" height="149.9" fill="#7fc97f"/>
<rect x="1104.92" y="1296.3" width="16.4" height="78.9" fill="#beaed4"/>
<rect x="1137.05" y="1358.4" width="16.4" height="16.8" fill="#fdc086"/>
<rect x="1153.45" y="1238.7" width="16.4" height="136.5" fill="#7fc97f"/>
<rect x="1169.85" y="1289" width="16.4" height="86.2" fill="#beaed4"/>
</g>
<rect x="154.3" y="1014.4" width="1041.3" height="360.8" fill="none" stroke="#000" stroke-width="2.8"/>
<line x1="1195.6" y1="1013.0" x2="1195.6" y2="1376.6000000000001" stroke="#000" stroke-width="3.6"/>
<line x1="144" y1="1376.2" x2="154.3" y2="1376.2" stroke="#000" stroke-width="2.8"/>
<text transform="translate(138.2 1387.5) scale(1 1.045)" font-size="31.5" text-anchor="end" >0</text>
<line x1="144" y1="1297.05" x2="154.3" y2="1297.05" stroke="#000" stroke-width="2.8"/>
<text transform="translate(138.2 1308.35) scale(1 1.045)" font-size="31.5" text-anchor="end" >5</text>
<line x1="144" y1="1217.9" x2="154.3" y2="1217.9" stroke="#000" stroke-width="2.8"/>
<text transform="translate(138.2 1229.2) scale(1 1.045)" font-size="31.5" text-anchor="end" >10</text>
<line x1="144" y1="1138.75" x2="154.3" y2="1138.75" stroke="#000" stroke-width="2.8"/>
<text transform="translate(138.2 1150.05) scale(1 1.045)" font-size="31.5" text-anchor="end" >15</text>
<line x1="144" y1="1059.6" x2="154.3" y2="1059.6" stroke="#000" stroke-width="2.8"/>
<text transform="translate(138.2 1070.9) scale(1 1.045)" font-size="31.5" text-anchor="end" >20</text>
<line x1="1195.6" y1="1374.6" x2="1204.7" y2="1374.6" stroke="#000" stroke-width="2.8"/>
<text transform="translate(1211 1385.9) scale(1 1.045)" font-size="31.5" text-anchor="start" >0</text>
<line x1="1195.6" y1="1262.15" x2="1204.7" y2="1262.15" stroke="#000" stroke-width="2.8"/>
<text transform="translate(1211 1273.45) scale(1 1.045)" font-size="31.5" text-anchor="start" >2×10<tspan font-size="18.5" dy="-9.6">5</tspan></text>
<line x1="1195.6" y1="1149.7" x2="1204.7" y2="1149.7" stroke="#000" stroke-width="2.8"/>
<text transform="translate(1211 1161) scale(1 1.045)" font-size="31.5" text-anchor="start" >4×10<tspan font-size="18.5" dy="-9.6">5</tspan></text>
<line x1="1195.6" y1="1037.25" x2="1204.7" y2="1037.25" stroke="#000" stroke-width="2.8"/>
<text transform="translate(1211 1048.55) scale(1 1.045)" font-size="31.5" text-anchor="start" >6×10<tspan font-size="18.5" dy="-9.6">5</tspan></text>
<line x1="179.5" y1="1375.2" x2="179.5" y2="1384" stroke="#000" stroke-width="2.8"/>
<text transform="translate(179.5 1417.3) scale(1 1.045)" font-size="31.5" text-anchor="middle" >1995</text>
<line x1="309.36" y1="1375.2" x2="309.36" y2="1384" stroke="#000" stroke-width="2.8"/>
<text transform="translate(309.36 1417.3) scale(1 1.045)" font-size="31.5" text-anchor="middle" >1997</text>
<line x1="439.22" y1="1375.2" x2="439.22" y2="1384" stroke="#000" stroke-width="2.8"/>
<text transform="translate(439.22 1417.3) scale(1 1.045)" font-size="31.5" text-anchor="middle" >1999</text>
<line x1="569.08" y1="1375.2" x2="569.08" y2="1384" stroke="#000" stroke-width="2.8"/>
<text transform="translate(569.08 1417.3) scale(1 1.045)" font-size="31.5" text-anchor="middle" >2001</text>
<line x1="698.94" y1="1375.2" x2="698.94" y2="1384" stroke="#000" stroke-width="2.8"/>
<text transform="translate(698.94 1417.3) scale(1 1.045)" font-size="31.5" text-anchor="middle" >2003</text>
<line x1="828.8" y1="1375.2" x2="828.8" y2="1384" stroke="#000" stroke-width="2.8"/>
<text transform="translate(828.8 1417.3) scale(1 1.045)" font-size="31.5" text-anchor="middle" >2005</text>
<line x1="958.66" y1="1375.2" x2="958.66" y2="1384" stroke="#000" stroke-width="2.8"/>
<text transform="translate(958.66 1417.3) scale(1 1.045)" font-size="31.5" text-anchor="middle" >2007</text>
<line x1="1088.52" y1="1375.2" x2="1088.52" y2="1384" stroke="#000" stroke-width="2.8"/>
<text transform="translate(1088.52 1417.3) scale(1 1.045)" font-size="31.5" text-anchor="middle" >2009</text>
<rect x="1077.1" y="1039.4" width="23.7" height="23" fill="#fdc086"/>
<text transform="translate(1112.5 1061) scale(1 1.045)" font-size="27.5" text-anchor="start" >MDA</text>
<rect x="1077.1" y="1072.6" width="23.7" height="23" fill="#7fc97f"/>
<text transform="translate(1112.5 1094.2) scale(1 1.045)" font-size="27.5" text-anchor="start" >ITNs</text>
<rect x="1077.1" y="1105.8" width="23.7" height="23" fill="#beaed4"/>
<text transform="translate(1112.5 1127.4) scale(1 1.045)" font-size="27.5" text-anchor="start" >IRS</text>
<text transform="translate(28.1 1198.2) rotate(-90) scale(1 1.03)" font-size="37.4" text-anchor="middle" >Take antimalarial drugs</text>
<text transform="translate(74.5 1197) rotate(-90) scale(1 1.03)" font-size="37.4" text-anchor="middle" >and nets coverage (%)</text>
<text transform="translate(1336.5 1199) rotate(-90) scale(1 1.03)" font-size="37.4" text-anchor="middle" >IRS (m<tspan font-size="22" dy="-13">2</tspan><tspan dy="13">)</tspan></text>
<text transform="translate(36.5 990.7) scale(1 1.045)" font-size="37" text-anchor="start" font-weight="bold">c</text>
</g></svg></body></html>
